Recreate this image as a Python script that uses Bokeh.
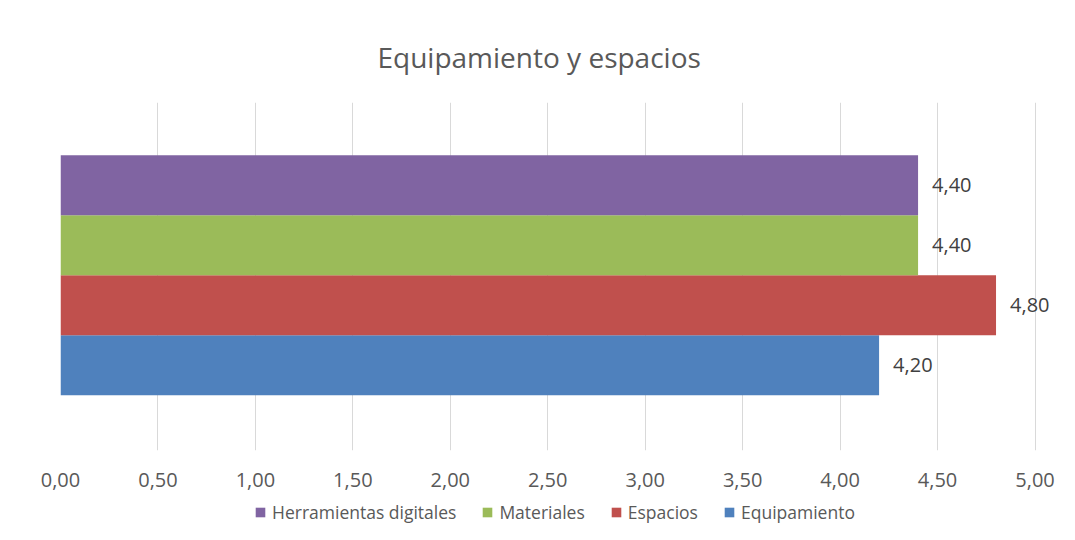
import numpy as np
from bokeh.plotting import figure
from bokeh.layouts import column
from bokeh.models import ColumnDataSource, Range1d, FixedTicker, LabelSet, Legend, LegendItem
from bokeh.core.properties import value
from bokeh.embed import file_html
from bokeh.resources import INLINE

# Data
series = ["Equipamiento", "Espacios", "Materiales", "Herramientas digitales"]
values = [4.20, 4.80, 4.40, 4.40]
colors = ["#4F81BD", "#C0504D", "#9BBB59", "#8064A2"]
tick_values = [0, 0.5, 1, 1.5, 2, 2.5, 3, 3.5, 4, 4.5, 5]
tick_labels = ["0,00", "0,50", "1,00", "1,50", "2,00", "2,50", "3,00", "3,50", "4,00", "4,50", "5,00"]
legend_order = ["Herramientas digitales", "Materiales", "Espacios", "Equipamiento"]

FONT = "Open Sans"
TXT = "#595959"

p = figure(width=1059, height=495, output_backend="svg", toolbar_location=None,
           x_range=Range1d(0, 5.1), y_range=Range1d(-1.42, 4.38),
           min_border_left=60, min_border_right=5, min_border_top=102, min_border_bottom=45)
p.title.text = "Equipamiento y espacios"
p.title.align = "left"
p.title.offset = 317
p.title.text_font = FONT
p.title.text_font_size = "28px"
p.title.text_font_style = "normal"
p.title.text_color = TXT
p.title.standoff = 53

p.outline_line_color = None
p.background_fill_color = "white"
p.border_fill_color = "white"

for i, (name, v, c) in enumerate(zip(series, values, colors)):
    src = ColumnDataSource(dict(y=[i], right=[v], lab=[f"{v:.2f}".replace(".", ",")]))
    p.hbar(y="y", right="right", left=0, height=1.0, source=src, fill_color=c, line_color=None)
    p.add_layout(LabelSet(x="right", y="y", text="lab", source=src, x_offset=14,
                          text_baseline="middle", text_font=value(FONT), text_font_size="20px",
                          text_color="#404040"))

p.xaxis.ticker = FixedTicker(ticks=tick_values)
p.xaxis.major_label_overrides = {t: l for t, l in zip(tick_values, tick_labels)}
p.xaxis.axis_line_color = None
p.xaxis.major_tick_line_color = None
p.xaxis.minor_tick_line_color = None
p.xaxis.major_label_text_font = FONT
p.xaxis.major_label_text_font_size = "20px"
p.xaxis.major_label_text_color = TXT
p.xaxis.major_label_standoff = 16
p.yaxis.visible = False
p.xgrid.ticker = FixedTicker(ticks=tick_values)
p.xgrid.grid_line_color = "#d9d9d9"
p.ygrid.grid_line_color = None

# Legend strip below the chart (swatch-only renderers, nothing visible in the strip)
lg = figure(width=1059, height=29, output_backend="svg", toolbar_location=None,
            x_range=Range1d(0, 1), y_range=Range1d(0, 1),
            x_axis_type=None, y_axis_type=None, min_border=0)
lg.outline_line_color = None
lg.xgrid.visible = False
lg.ygrid.visible = False
renderers = {}
for name, c in zip(series, colors):
    sw = ColumnDataSource(dict(y=np.array([np.nan]), right=np.array([np.nan])))
    renderers[name] = lg.hbar(y="y", right="right", left=0, height=1.0, source=sw,
                              fill_color=c, line_color=None)

legend = Legend(items=[LegendItem(label=n, renderers=[renderers[n]]) for n in legend_order],
                orientation="horizontal", location=(194, 0),
                label_text_font=FONT, label_text_font_size="17.5px", label_text_color=TXT,
                glyph_width=12, glyph_height=12, label_standoff=6, spacing=25,
                border_line_color=None, background_fill_alpha=0, padding=0, margin=0)
lg.add_layout(legend)

layout = column(p, lg, spacing=0)
open("out.html", "w").write(file_html(layout, INLINE))
